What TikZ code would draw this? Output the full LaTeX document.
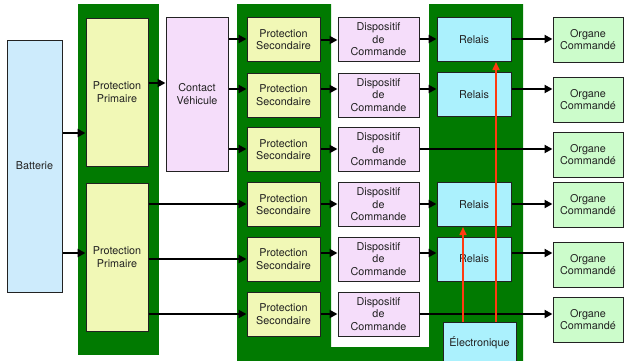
\documentclass[tikz,border=0pt]{standalone}
\usepackage{fontspec}
\setmainfont{TeX Gyre Heros}
\usetikzlibrary{arrows.meta}

\definecolor{panelgreen}{HTML}{017A01}
\definecolor{boxline}{HTML}{222222}
\definecolor{battfill}{HTML}{CDEBFC}
\definecolor{protfill}{HTML}{F1F8B6}
\definecolor{cmdfill}{HTML}{F5DDFA}
\definecolor{relfill}{HTML}{ABF1FD}
\definecolor{orgfill}{HTML}{CCFCCB}
\definecolor{ctrlred}{HTML}{FF3A10}

\tikzset{
  box/.style={draw=boxline, line width=1pt, align=center, inner sep=0pt,
    text=boxline},
  batt/.style={box, fill=battfill, minimum width=55pt, minimum height=252pt},
  prim/.style={box, fill=protfill, minimum width=62pt, minimum height=148pt},
  contact/.style={box, fill=cmdfill, minimum width=62pt, minimum height=154pt},
  second/.style={box, fill=protfill, minimum width=73pt, minimum height=44pt},
  cmd/.style={box, fill=cmdfill, minimum width=81pt, minimum height=44pt},
  relay/.style={box, fill=relfill, minimum width=74pt, minimum height=44pt},
  organ/.style={box, fill=orgfill, minimum width=70pt, minimum height=45pt},
  arr/.style={line width=2pt, -{Triangle[length=8pt,width=8pt]}},
  redarr/.style={ctrlred, line width=1.6pt, -{Triangle[length=8pt,width=7pt]}},
}

\begin{document}
\begin{tikzpicture}[x=1pt, y=-1pt, font=\fontsize{10.8}{12.6}\selectfont]
\useasboundingbox (0,0) rectangle (624,360);
\clip (0,0) rectangle (624,360);

% green mounting panels
\fill[panelgreen] (78,4) rectangle (159,355);
\fill[panelgreen] (237,4) -- (237,365) -- (523,365) -- (523,4) -- (429,4)
  -- (429,347) -- (331,347) -- (331,4) -- cycle;

% power source and primary protection
\node[batt] (bat) at (34.5,166) {Batterie};
\node[prim] (pp1) at (117,92) {Protection\\Primaire};
\node[prim] (pp2) at (117,257) {Protection\\Primaire};
\node[contact] (ck) at (197,94) {Contact\\Véhicule};

% secondary protection
\node[second] (ps1) at (283.5,39.5) {Protection\\Secondaire};
\node[second] (ps2) at (283.5,95) {Protection\\Secondaire};
\node[second] (ps3) at (283.5,149.5) {Protection\\Secondaire};
\node[second] (ps4) at (283.5,204.5) {Protection\\Secondaire};
\node[second] (ps5) at (283.5,259) {Protection\\Secondaire};
\node[second] (ps6) at (283.5,314) {Protection\\Secondaire};

% control devices
\node[cmd] (dc1) at (378.5,39.5) {Dispositif\\de\\Commande};
\node[cmd] (dc2) at (378.5,95) {Dispositif\\de\\Commande};
\node[cmd] (dc3) at (378.5,149.5) {Dispositif\\de\\Commande};
\node[cmd] (dc4) at (378.5,204.5) {Dispositif\\de\\Commande};
\node[cmd] (dc5) at (378.5,259) {Dispositif\\de\\Commande};
\node[cmd] (dc6) at (378.5,314) {Dispositif\\de\\Commande};

% relays and electronics
\node[relay] (rl1) at (474,39.5) {Relais};
\node[relay] (rl2) at (474,94.5) {Relais};
\node[relay] (rl4) at (474,204.5) {Relais};
\node[relay] (rl5) at (474,259) {Relais};
\node[box, fill=relfill, minimum width=73pt, minimum height=42pt] (el) at (479.5,343) {Électronique};

% controlled loads
\node[organ] (oc1) at (588,39.5) {Organe\\Commandé};
\node[organ] (oc2) at (588,99.5) {Organe\\Commandé};
\node[organ] (oc3) at (588,154.5) {Organe\\Commandé};
\node[organ] (oc4) at (588,204.5) {Organe\\Commandé};
\node[organ] (oc5) at (588,264.5) {Organe\\Commandé};
\node[organ] (oc6) at (588,319.5) {Organe\\Commandé};

% power feed
\draw[arr] (bat.east |- 0,133) -- (pp1.west |- 0,133);
\draw[arr] (bat.east |- 0,253) -- (pp2.west |- 0,253);
\draw[arr] (pp1.east |- 0,83) -- (ck.west |- 0,83);
\draw[arr] (ck.east |- 0,39) -- (ps1.west |- 0,39);
\draw[arr] (ck.east |- 0,89) -- (ps2.west |- 0,89);
\draw[arr] (ck.east |- 0,149) -- (ps3.west |- 0,149);
\draw[arr] (pp2.east |- 0,204) -- (ps4.west |- 0,204);
\draw[arr] (pp2.east |- 0,259) -- (ps5.west |- 0,259);
\draw[arr] (pp2.east |- 0,314) -- (ps6.west |- 0,314);

% secondary protection to control devices
\draw[arr] (ps1.east |- 0,40) -- (dc1.west |- 0,40);
\draw[arr] (ps2.east |- 0,89) -- (dc2.west |- 0,89);
\draw[arr] (ps3.east |- 0,149) -- (dc3.west |- 0,149);
\draw[arr] (ps4.east |- 0,204) -- (dc4.west |- 0,204);
\draw[arr] (ps5.east |- 0,253) -- (dc5.west |- 0,253);
\draw[arr] (ps6.east |- 0,314) -- (dc6.west |- 0,314);

% control devices to relays or loads
\draw[arr] (dc1.east |- 0,39) -- (rl1.west |- 0,39);
\draw[arr] (dc2.east |- 0,89) -- (rl2.west |- 0,89);
\draw[arr] (dc3.east |- 0,149) -- (oc3.west |- 0,149);
\draw[arr] (dc4.east |- 0,204) -- (rl4.west |- 0,204);
\draw[arr] (dc5.east |- 0,253) -- (rl5.west |- 0,253);
\draw[arr] (dc6.east |- 0,314) -- (oc6.west |- 0,314);

% relays to loads
\draw[arr] (rl1.east |- 0,39) -- (oc1.west |- 0,39);
\draw[arr] (rl2.east |- 0,89) -- (oc2.west |- 0,89);
\draw[arr] (rl4.east |- 0,204) -- (oc4.west |- 0,204);
\draw[arr] (rl5.east |- 0,253) -- (oc5.west |- 0,253);

% electronic control lines
\draw[redarr] (el.north -| 463,0) -- (rl4.south -| 463,0);
\draw[redarr] (el.north -| 496,0) -- (rl1.south -| 496,0);
\end{tikzpicture}
\end{document}
